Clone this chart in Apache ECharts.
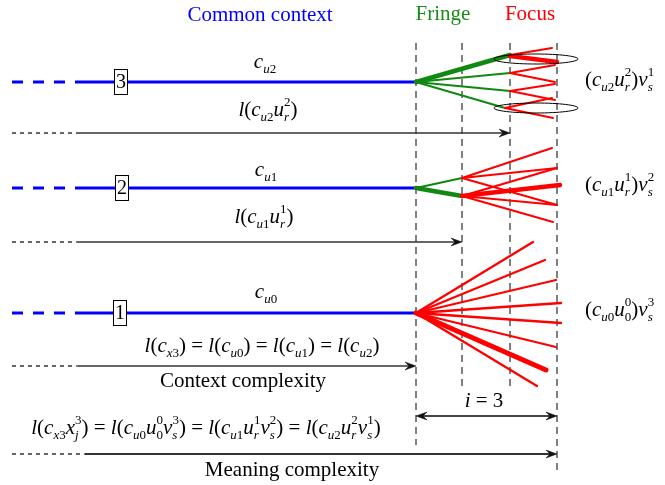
<!DOCTYPE html>
<html><head><meta charset="utf-8">
<script src="https://cdn.jsdelivr.net/npm/echarts@6/dist/echarts.min.js"></script>
<style>html,body{margin:0;padding:0;background:#fff}#c{width:665px;height:485px}</style>
</head><body><div id="c"></div>
<script>
// ---------------- data (diagram units = pixels of the 665x485 canvas) ----------------
const guideX      = [416, 462, 510, 557];
const guideTop    = [43, 43, 43, 43];
const guideBottom = [445, 390, 388, 470];

const rowY      = [82, 188, 313];          // rows 3, 2, 1
const rowLabel  = ['3', '2', '1'];
const rowBoxX   = [121, 122, 120];
const rowDashStart = 12, rowSolidStart = 78, rowEnd = 416;

const arrowY          = [133, 242, 366, 454];
const arrowDashStart  = [12, 12, 12, 12];
const arrowSolidStart = [80, 77, 78, 85];
const arrowEnd        = [510, 462, 416, 557];
const arrowWidth      = [1.3, 1.3, 1.3, 2];

const spanFrom = 416, spanTo = 557, spanY = 416;

// fringe (green) and focus (red) branches: [x1, y1, x2, y2, width]
const fringeSegs = [
  [416, 82, 510, 55, 4.5], [416, 82, 510, 73, 2], [416, 82, 510, 91, 2], [416, 82, 505, 108, 2],
  [416, 188, 462, 178, 2], [416, 188, 462, 196, 4.5]
];
const focusSegs = [
  [510, 55, 552, 48, 2], [510, 56, 557, 62, 4.5],
  [510, 73, 555, 65, 2], [510, 73, 555, 82, 2],
  [510, 91, 555, 84, 2], [510, 91, 555, 100, 2],
  [505, 108, 552, 98, 2], [505, 108, 553, 118, 2],
  [462, 178, 552, 148, 2], [462, 178, 557, 168, 2], [462, 178, 557, 205, 2],
  [462, 196, 557, 168, 2], [462, 196, 560, 185, 4.5], [462, 196, 557, 205, 2], [462, 196, 553, 222, 2],
  [416, 313, 533, 242, 2.3], [416, 313, 545, 260, 2.3], [416, 313, 556, 280, 2.3], [416, 313, 561, 303, 2.3],
  [416, 313, 561, 323, 2.3], [416, 313, 556, 347, 2.3], [416, 313, 546, 370, 5], [416, 313, 537, 386, 2.3]
];
const ellipses = [[536, 59, 42, 5], [536, 108, 42, 5]];

// texts
const textContent = [
  '{blue|Common context}', '{green|Fringe}', '{red|Focus}',
  '{i|c}{si|u}{sn|2}',
  '{i|l}{n|(}{i|c}{si|u}{sn|2}{i|u}{si|r}{pr|2}{n|)}',
  '{i|c}{si|u}{sn|1}',
  '{i|l}{n|(}{i|c}{si|u}{sn|1}{i|u}{si|r}{pr|1}{n|)}',
  '{i|c}{si|u}{sn|0}',
  '{i|l}{n|(}{i|c}{si|x}{sn|3}{n|) = }{i|l}{n|(}{i|c}{si|u}{sn|0}{n|) = }{i|l}{n|(}{i|c}{si|u}{sn|1}{n|) = }{i|l}{n|(}{i|c}{si|u}{sn|2}{n|)}',
  '{n|Context complexity}',
  '{i|l}{n|(}{i|c}{si|x}{sn|3}{i|x}{si|j}{pj|3}{n|) = }{i|l}{n|(}{i|c}{si|u}{sn|0}{i|u}{sn|0}{p0|0}{i|v}{si|s}{pr|3}{n|) = }{i|l}{n|(}{i|c}{si|u}{sn|1}{i|u}{si|r}{pr|1}{i|v}{si|s}{pr|2}{n|) = }{i|l}{n|(}{i|c}{si|u}{sn|2}{i|u}{si|r}{pr|2}{i|v}{si|s}{pr|1}{n|)}',
  '{n|Meaning complexity}',
  '{n|(}{i|c}{si|u}{sn|2}{i|u}{si|r}{pr|2}{n|)}{i|v}{si|s}{pr|1}',
  '{n|(}{i|c}{si|u}{sn|1}{i|u}{si|r}{pr|1}{n|)}{i|v}{si|s}{pr|2}',
  '{n|(}{i|c}{si|u}{sn|0}{i|u}{sn|0}{p0|0}{n|)}{i|v}{si|s}{pr|3}',
  '{i|i}{n| = 3}'
];
const textX = [260, 443, 530, 265, 268, 266, 264, 266, 262, 243, 206, 292, 585, 585, 585, 484];
const textY = [15, 14, 14, 62, 110, 170, 217, 292, 346, 381, 428, 470, 80, 185, 310, 401];
const textAlign = ['center','center','center','center','center','center','center','center','center','center','center','center','left','left','left','center'];

// ---------------- rendering ----------------
const F = '"Liberation Serif", "Times New Roman", serif';
const rich = {
  n:  {font: '21px ' + F, fill: '#000'},
  i:  {font: 'italic 21px ' + F, fill: '#000'},
  si: {font: 'italic 13px ' + F, fill: '#000', padding: [16, 0, 0, 0]},
  sn: {font: '13px ' + F, fill: '#000', padding: [16, 0, 0, 0]},
  pn: {font: '13px ' + F, fill: '#000', padding: [0, 0, 14, 0]},
  pr: {font: '13px ' + F, fill: '#000', padding: [0, 0, 14, -5]},
  pj: {font: '13px ' + F, fill: '#000', padding: [0, 0, 14, -3.6]},
  p0: {font: '13px ' + F, fill: '#000', padding: [0, 0, 14, -6.5]},
  blue:  {font: '21px ' + F, fill: '#0000ff'},
  green: {font: '21px ' + F, fill: '#1a8c1a'},
  red:   {font: '21px ' + F, fill: '#ff0000'},
  box:   {font: '20px ' + F, fill: '#000', backgroundColor: '#fff', borderColor: '#000', borderWidth: 1, padding: [3, 1, 1, 1]}
};

const base = {type: 'custom', coordinateSystem: 'cartesian2d', silent: true, clip: false, animation: false};

function arrowHead(api, tip, dir) {
  const t = api.coord(tip);
  const L = 11, H = 4, N = 7;
  return {type: 'polygon', shape: {points: [
    [t[0], t[1]], [t[0] - dir * L, t[1] - H], [t[0] - dir * N, t[1]], [t[0] - dir * L, t[1] + H]
  ]}, style: {fill: '#111', stroke: '#111', lineWidth: 0.5}};
}

const series = [
  Object.assign({}, base, {
    name: 'guides', z: 1,
    data: guideX.map((x, k) => [x, guideTop[k], guideBottom[k]]),
    renderItem(p, api) {
      const a = api.coord([api.value(0), api.value(1)]), b = api.coord([api.value(0), api.value(2)]);
      return {type: 'line', shape: {x1: a[0], y1: a[1], x2: b[0], y2: b[1]},
        style: {stroke: '#000', lineWidth: 1, lineDash: [7, 5]}};
    }
  }),
  Object.assign({}, base, {
    name: 'context', z: 2,
    data: rowY.map(y => [rowDashStart, rowSolidStart, rowEnd, y]),
    renderItem(p, api) {
      const y = api.value(3);
      const a = api.coord([api.value(0), y]), b = api.coord([api.value(1), y]), c = api.coord([api.value(2), y]);
      return {type: 'group', children: [
        {type: 'line', shape: {x1: a[0], y1: a[1], x2: b[0], y2: b[1]}, style: {stroke: '#0000ff', lineWidth: 3, lineDash: [11, 10]}},
        {type: 'line', shape: {x1: b[0], y1: b[1], x2: c[0], y2: c[1]}, style: {stroke: '#0000ff', lineWidth: 3}}
      ]};
    }
  }),
  Object.assign({}, base, {
    name: 'fringe', z: 3, data: fringeSegs,
    renderItem(p, api) {
      const a = api.coord([api.value(0), api.value(1)]), b = api.coord([api.value(2), api.value(3)]);
      return {type: 'line', shape: {x1: a[0], y1: a[1], x2: b[0], y2: b[1]},
        style: {stroke: '#118811', lineWidth: api.value(4), lineCap: 'round'}};
    }
  }),
  Object.assign({}, base, {
    name: 'focus', z: 4, data: focusSegs,
    renderItem(p, api) {
      const a = api.coord([api.value(0), api.value(1)]), b = api.coord([api.value(2), api.value(3)]);
      return {type: 'line', shape: {x1: a[0], y1: a[1], x2: b[0], y2: b[1]},
        style: {stroke: '#ff0000', lineWidth: api.value(4), lineCap: 'round'}};
    }
  }),
  Object.assign({}, base, {
    name: 'ellipses', z: 5, data: ellipses,
    renderItem(p, api) {
      const c = api.coord([api.value(0), api.value(1)]);
      const e = api.coord([api.value(0) + api.value(2), api.value(1) + api.value(3)]);
      return {type: 'ellipse', shape: {cx: c[0], cy: c[1], rx: e[0] - c[0], ry: e[1] - c[1]},
        style: {fill: 'none', stroke: '#000', lineWidth: 1}};
    }
  }),
  Object.assign({}, base, {
    name: 'lengths', z: 5,
    data: arrowY.map((y, k) => [arrowDashStart[k], arrowSolidStart[k], arrowEnd[k], y, arrowWidth[k]]),
    renderItem(p, api) {
      const y = api.value(3);
      const a = api.coord([api.value(0), y]), b = api.coord([api.value(1), y]), c = api.coord([api.value(2), y]);
      return {type: 'group', children: [
        {type: 'line', shape: {x1: a[0], y1: a[1], x2: b[0], y2: b[1]}, style: {stroke: '#000', lineWidth: 1.2, lineDash: [4, 4]}},
        {type: 'line', shape: {x1: b[0], y1: b[1], x2: c[0] - 6, y2: c[1]}, style: {stroke: '#333', lineWidth: api.value(4)}},
        arrowHead(api, [api.value(2), y], 1)
      ]};
    }
  }),
  Object.assign({}, base, {
    name: 'span', z: 5,
    data: [[spanFrom, spanTo, spanY]],
    renderItem(p, api) {
      const y = api.value(2);
      const a = api.coord([api.value(0), y]), b = api.coord([api.value(1), y]);
      return {type: 'group', children: [
        {type: 'line', shape: {x1: a[0] + 6, y1: a[1], x2: b[0] - 6, y2: b[1]}, style: {stroke: '#444', lineWidth: 2}},
        arrowHead(api, [api.value(0), y], -1),
        arrowHead(api, [api.value(1), y], 1)
      ]};
    }
  }),
  Object.assign({}, base, {
    name: 'boxes', z: 8,
    data: rowY.map((y, k) => [rowBoxX[k], y]),
    renderItem(p, api) {
      const c = api.coord([api.value(0), api.value(1)]);
      return {type: 'text', x: c[0], y: c[1],
        style: {text: '{box|' + rowLabel[p.dataIndex] + '}', rich: rich,
          textAlign: 'center', textVerticalAlign: 'middle', align: 'center', verticalAlign: 'middle'}};
    }
  }),
  Object.assign({}, base, {
    name: 'texts', z: 9,
    data: textX.map((x, k) => [x, textY[k]]),
    renderItem(p, api) {
      const c = api.coord([api.value(0), api.value(1)]);
      const al = textAlign[p.dataIndex];
      return {type: 'text', x: c[0], y: c[1],
        style: {text: textContent[p.dataIndex], rich: rich,
          textAlign: al, textVerticalAlign: 'middle', align: al, verticalAlign: 'middle'}};
    }
  })
];

const chart = echarts.init(document.getElementById('c'), null, {renderer: 'canvas'});
chart.setOption({
  animation: false,
  backgroundColor: '#fff',
  grid: {left: 0, right: 0, top: 0, bottom: 0},
  xAxis: {type: 'value', min: 0, max: 665, show: false},
  yAxis: {type: 'value', min: 0, max: 485, inverse: true, show: false},
  series: series
});
</script></body></html>
